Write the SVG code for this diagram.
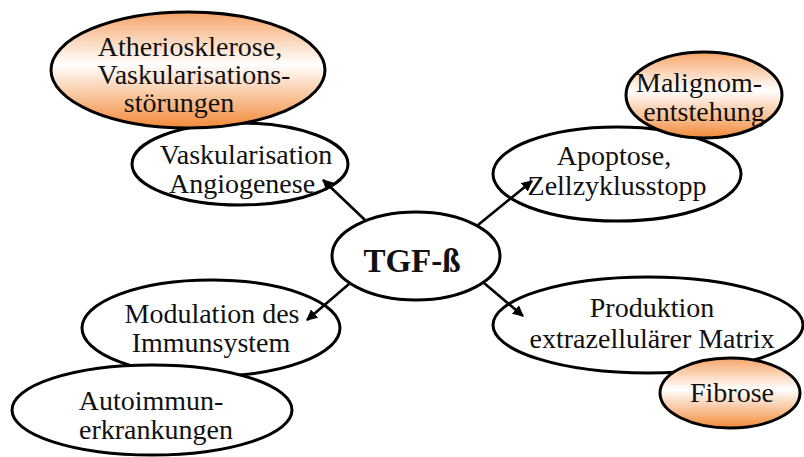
<svg xmlns="http://www.w3.org/2000/svg" width="804" height="457" viewBox="0 0 804 457">
<defs>
<linearGradient id="org" x1="0" y1="0" x2="0" y2="1">
<stop offset="0" stop-color="#F6A468"/>
<stop offset="0.45" stop-color="#FFFFFF"/>
<stop offset="1" stop-color="#F28A3A"/>
</linearGradient>
<marker id="ah" viewBox="0 0 10 10" refX="9" refY="5" markerWidth="11" markerHeight="11" markerUnits="userSpaceOnUse" orient="auto">
<path d="M0,0 L10,5 L0,10 Z" fill="#000"/>
</marker>
</defs>
<style>
.n{fill:#fff;stroke:#000;stroke-width:3}
.o{fill:url(#org);stroke:#000;stroke-width:3}
text{font-family:"Liberation Serif","Times New Roman",serif;font-size:28px;fill:#111;text-anchor:middle}
.b{font-weight:bold;font-size:33px}
.c{stroke:#000;stroke-width:2.6;fill:none;marker-end:url(#ah)}
</style>
<rect width="804" height="457" fill="#fff"/>
<g id="vaskularisation">
<ellipse class="n" cx="240" cy="164" rx="108" ry="41"/>
<text x="246" y="164">Vaskularisation</text>
<text x="242" y="193">Angiogenese</text>
</g>
<g id="atheriosklerose">
<ellipse class="o" cx="188" cy="70" rx="137" ry="58"/>
<text x="190" y="56">Atheriosklerose,</text>
<text x="194" y="84">Vaskularisations-</text>
<text x="179" y="112">störungen</text>
</g>
<g id="apoptose">
<ellipse class="n" cx="617" cy="174" rx="124" ry="47"/>
<text x="614" y="165">Apoptose,</text>
<text x="617" y="195">Zellzyklusstopp</text>
</g>
<g id="malignom">
<ellipse class="o" cx="704" cy="95" rx="78" ry="43"/>
<text x="699" y="92">Malignom-</text>
<text x="704" y="121">entstehung</text>
</g>
<g id="modulation">
<ellipse class="n" cx="211" cy="328" rx="129" ry="48"/>
<text x="212" y="323">Modulation des</text>
<text x="211" y="352">Immunsystem</text>
</g>
<g id="autoimmun">
<ellipse class="n" cx="152" cy="410" rx="140" ry="45"/>
<text x="151" y="410">Autoimmun-</text>
<text x="156" y="439">erkrankungen</text>
</g>
<g id="produktion">
<ellipse class="n" cx="648" cy="325" rx="155" ry="48"/>
<text x="652" y="317">Produktion</text>
<text x="652" y="348">extrazellulärer Matrix</text>
</g>
<g id="fibrose">
<ellipse class="o" cx="730" cy="393" rx="70" ry="35"/>
<text x="732" y="402">Fibrose</text>
</g>
<g id="tgf">
<ellipse class="n" cx="416" cy="256" rx="84" ry="44"/>
<text class="b" x="412" y="272">TGF-ß</text>
</g>
<g id="connectors">
<line class="c" x1="365" y1="220" x2="323" y2="180"/>
<line class="c" x1="478" y1="225" x2="532" y2="181"/>
<line class="c" x1="349" y1="284" x2="307" y2="320"/>
<line class="c" x1="484" y1="283" x2="523" y2="316"/>
</g>
</svg>
